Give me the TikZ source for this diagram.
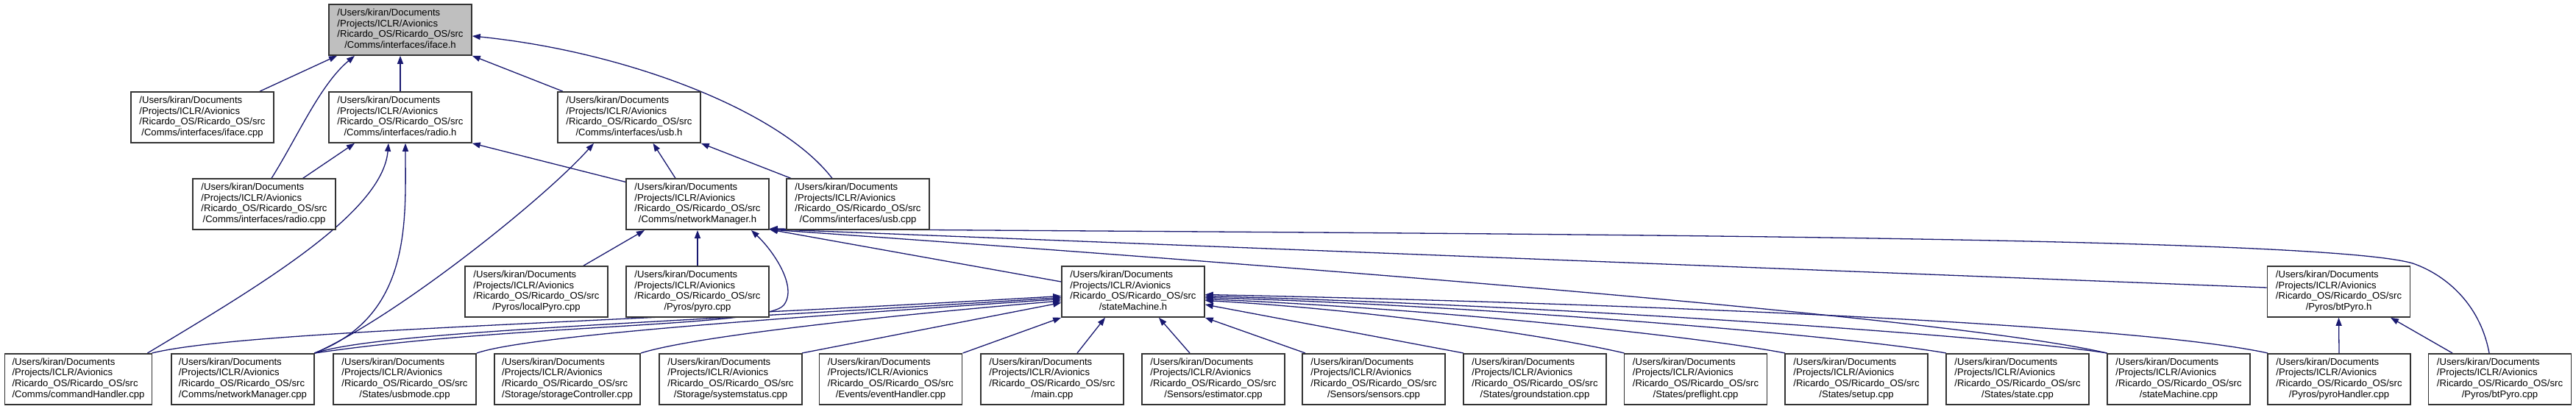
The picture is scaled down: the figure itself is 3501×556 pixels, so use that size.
\documentclass[tikz,border=0pt]{standalone}
\usepackage{fontspec}
\setmainfont{Liberation Sans}
\usetikzlibrary{arrows.meta}
\definecolor{mblue}{HTML}{191970}
\definecolor{rootgray}{HTML}{BFBFBF}
\newcommand\dxlab[1]{\begin{tabular}{@{}l@{}}/Users/kiran/Documents\\/Projects/ICLR/Avionics\\/Ricardo\_OS/Ricardo\_OS/src\\\multicolumn{1}{@{}c@{}}{#1}\end{tabular}}
\pgfdeclarelayer{bg}
\pgfsetlayers{bg,main}
\begin{document}
\begin{tikzpicture}[x=1pt,y=-1pt,
  box/.style={draw=black!80, line width=1.6pt, fill=white, minimum width=194pt, minimum height=69pt, inner xsep=10pt, inner ysep=0pt, font=\fontsize{13.1}{14.6}\selectfont},
  root/.style={box, fill=rootgray},
  dep/.style={draw=mblue, line width=1.3pt, -{Triangle[length=11pt,width=8pt]}}]
\useasboundingbox (0,0) rectangle (3501,556);
% row 1
\node[root] (ifaceh) at (544,40.5) {\dxlab{/Comms/interfaces/iface.h}};
% row 2
\node[box] (ifacecpp) at (275,159.5) {\dxlab{/Comms/interfaces/iface.cpp}};
\node[box] (radioh) at (544,159.5) {\dxlab{/Comms/interfaces/radio.h}};
\node[box] (usbh) at (855,159.5) {\dxlab{/Comms/interfaces/usb.h}};
% row 3
\node[box] (radiocpp) at (359,277.7) {\dxlab{/Comms/interfaces/radio.cpp}};
\node[box] (nmh) at (948,277.7) {\dxlab{/Comms/networkManager.h}};
\node[box] (usbcpp) at (1166,277.7) {\dxlab{/Comms/interfaces/usb.cpp}};
% row 4
\node[box] (localpyro) at (729,396.5) {\dxlab{/Pyros/localPyro.cpp}};
\node[box] (pyrocpp) at (948,396.5) {\dxlab{/Pyros/pyro.cpp}};
\node[box] (smh) at (1540,396.5) {\dxlab{/stateMachine.h}};
\node[box] (btpyroh) at (3178.5,396.5) {\dxlab{/Pyros/btPyro.h}};
% row 5
\node[box] (cmdh) at (106.5,515.3) {\dxlab{/Comms/commandHandler.cpp}};
\node[box] (nmcpp) at (330,515.3) {\dxlab{/Comms/networkManager.cpp}};
\node[box] (usbmode) at (550,515.3) {\dxlab{/States/usbmode.cpp}};
\node[box] (storage) at (771,515.3) {\dxlab{/Storage/storageController.cpp}};
\node[box] (sysstat) at (993,515.3) {\dxlab{/Storage/systemstatus.cpp}};
\node[box] (event) at (1210.5,515.3) {\dxlab{/Events/eventHandler.cpp}};
\node[box] (mainc) at (1430,515.3) {\dxlab{/main.cpp}};
\node[box] (estim) at (1649,515.3) {\dxlab{/Sensors/estimator.cpp}};
\node[box] (sensors) at (1867,515.3) {\dxlab{/Sensors/sensors.cpp}};
\node[box] (ground) at (2086,515.3) {\dxlab{/States/groundstation.cpp}};
\node[box] (preflight) at (2304.5,515.3) {\dxlab{/States/preflight.cpp}};
\node[box] (setup) at (2523,515.3) {\dxlab{/States/setup.cpp}};
\node[box] (state) at (2742,515.3) {\dxlab{/States/state.cpp}};
\node[box] (smcpp) at (2961,515.3) {\dxlab{/stateMachine.cpp}};
\node[box] (pyroh) at (3179,515.3) {\dxlab{/Pyros/pyroHandler.cpp}};
\node[box] (btpyrocpp) at (3397.5,515.3) {\dxlab{/Pyros/btPyro.cpp}};

\begin{pgfonlayer}{bg}
% into iface.h
\draw[dep] ([xshift=78pt]ifacecpp.north) -- ([xshift=-86pt]ifaceh.south);
\draw[dep] ([xshift=10pt]radiocpp.north) .. controls (405,185) and (435,115) .. ([xshift=-62pt]ifaceh.south);
\draw[dep] (radioh.north) -- (ifaceh.south);
\draw[dep] ([xshift=-90pt]usbh.north) -- (ifaceh.south east);
\draw[dep] ([xshift=-35pt]usbcpp.north) .. controls (1060,150) and (850,70) .. ([yshift=-8.5pt]ifaceh.east);
% into radio.h
\draw[dep] ([xshift=52.6pt]radiocpp.north) -- ([xshift=-62pt]radioh.south);
\draw[dep] ([xshift=94pt]cmdh.north) .. controls (350,390) and (520,290) .. ([xshift=-16pt]radioh.south);
\draw[dep] ([xshift=97pt]nmcpp.north) .. controls (560,430) and (551,300) .. ([xshift=7pt]radioh.south);
\draw[dep] ([yshift=-5pt]nmh.north west) -- (radioh.south east);
% into usb.h
\draw[dep] ([xshift=98pt]nmcpp.north) .. controls (540,430) and (740,270) .. ([xshift=-48pt]usbh.south);
\draw[dep] ([xshift=-30pt]nmh.north) -- ([xshift=32.5pt]usbh.south);
\draw[dep] ([xshift=-91pt]usbcpp.north) -- (usbh.south east);
% into networkManager.h
\draw[dep] ([xshift=64pt]localpyro.north) -- ([xshift=-72pt]nmh.south);
\draw[dep] (pyrocpp.north) -- (nmh.south);
\draw[dep] ([xshift=98pt]nmcpp.north) .. controls (700,440) and (1040,445) .. (1065,415) .. controls (1085,390) and (1050,340) .. ([xshift=73pt]nmh.south);
\draw[dep] ([yshift=13.5pt]smh.west) -- ([yshift=1pt]nmh.south east);
\draw[dep] ([yshift=5.5pt]btpyroh.west) -- ([yshift=1.5pt]nmh.south east);
\draw[dep] ([xshift=-14.5pt]btpyrocpp.north) .. controls (3370,410) and (3320,372) .. (3279,358) .. controls (3150,320) and (2000,318) .. ([yshift=2pt]nmh.south east);
\draw[dep] (smcpp.north west) .. controls (2650,430) and (1700,358) .. ([yshift=1pt]nmh.south east);
% into stateMachine.h (left)
\draw[dep] ([xshift=100pt]cmdh.north) .. controls (330,450) and (800,440) .. ([yshift=-6pt]smh.west);
\draw[dep] ([xshift=98pt]nmcpp.north) .. controls (520,450) and (900,440) .. ([yshift=-8pt]smh.west);
\draw[dep] ([xshift=98pt]usbmode.north) .. controls (720,455) and (1100,430) .. ([yshift=-10pt]smh.west);
\draw[dep] ([xshift=100pt]storage.north) .. controls (950,455) and (1250,425) .. ([yshift=-12.5pt]smh.west);
\draw[dep] ([xshift=97pt]sysstat.north) -- ([yshift=-15pt]smh.west);
% into stateMachine.h (bottom)
\draw[dep] ([xshift=98pt]event.north) -- (smh.south west);
\draw[dep] ([xshift=34pt]mainc.north) -- ([xshift=-38pt]smh.south);
\draw[dep] ([xshift=-32pt]estim.north) -- ([xshift=35pt]smh.south);
\draw[dep] ([xshift=-93pt]sensors.north) -- (smh.south east);
% into stateMachine.h (right)
\draw[dep] ([xshift=-97pt]ground.north) -- ([yshift=-17.5pt]smh.east);
\draw[dep] ([xshift=-97pt]preflight.north) .. controls (2100,455) and (1850,420) .. ([yshift=-12pt]smh.east);
\draw[dep] ([xshift=-97pt]setup.north) .. controls (2300,456) and (1950,420) .. ([yshift=-10pt]smh.east);
\draw[dep] ([xshift=-97pt]state.north) .. controls (2500,455) and (2000,415) .. ([yshift=-8pt]smh.east);
\draw[dep] ([xshift=-97pt]smcpp.north) .. controls (2700,455) and (2100,415) .. ([yshift=-6pt]smh.east);
\draw[dep] ([xshift=-97pt]pyroh.north) .. controls (2900,440) and (2200,412) .. ([yshift=-4pt]smh.east);
% into btPyro.h
\draw[dep] (pyroh.north) -- (btpyroh.south);
\draw[dep] ([xshift=-64.5pt]btpyrocpp.north) -- ([xshift=70.5pt]btpyroh.south);
\end{pgfonlayer}
\end{tikzpicture}
\end{document}
